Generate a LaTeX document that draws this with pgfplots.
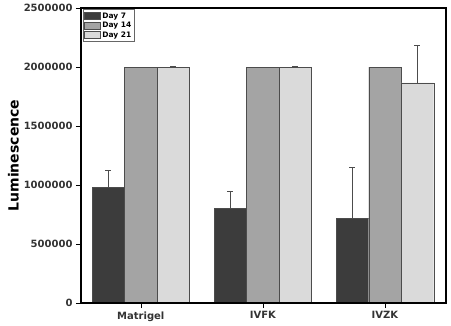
\documentclass[border=0pt]{standalone}
\usepackage{pgfplots}
\pgfplotsset{compat=1.18}
\usepackage{fontspec}
\setmainfont{DejaVu Sans}
\definecolor{dk}{HTML}{3C3C3C}
\definecolor{md}{HTML}{A4A4A4}
\definecolor{lt}{HTML}{DADADA}
\begin{document}
\begin{tikzpicture}
\path[use as bounding box] (-81pt,-22pt) rectangle (370pt,303pt);
\begin{axis}[
  at={(0,0)}, anchor=south west,
  scale only axis, width=365pt, height=295pt,
  ybar=0pt, bar width=32.5pt,
  xmin=-0.49, xmax=2.5,
  ymin=0, ymax=2500000,
  xtick={0,1,2}, xticklabels={Matrigel,IVFK,IVZK},
  ytick={0,500000,1000000,1500000,2000000,2500000},
  scaled y ticks=false,
  yticklabel style={/pgf/number format/fixed,/pgf/number format/1000 sep={}},
  /pgf/number format/assume math mode=true,
  tick label style={font=\bfseries\fontsize{10}{11}\selectfont, text=black!80},
  ylabel={\bfseries Luminescence}, ylabel style={font=\fontsize{14}{15}\selectfont, yshift=-2pt},
  axis line style={line width=1.3pt},
  tick align=outside, tick style={black, line width=0.6pt}, major tick length=5pt,
  xtick pos=bottom, ytick pos=left,
  axis on top,
  legend style={at={(0.005,0.995)}, anchor=north west, font=\bfseries\fontsize{7.5}{8}\selectfont, draw=black!60, inner sep=1pt, row sep=-1.5pt, legend cell align=left},
  legend image code/.code={\draw[#1] (0pt,-3.5pt) rectangle (16pt,3.5pt);},
]
\addplot[fill=dk, draw=black!70, error bars/.cd, y dir=plus, y explicit, error bar style={black!70, line width=0.8pt}, error mark options={rotate=90, mark size=3pt, line width=0.8pt, black!70}]
 coordinates {(0,980000) +- (0,140000) (1,800000) +- (0,150000) (2,715000) +- (0,430000)};
\addplot[fill=md, draw=black!70, error bars/.cd, y dir=plus, y explicit, error bar style={black!70, line width=0.8pt}, error mark options={rotate=90, mark size=3pt, line width=0.8pt, black!70}]
 coordinates {(0,2000000) +- (0,0) (1,2000000) +- (0,0) (2,2000000) +- (0,0)};
\addplot[fill=lt, draw=black!70, error bars/.cd, y dir=plus, y explicit, error bar style={black!70, line width=0.8pt}, error mark options={rotate=90, mark size=3pt, line width=0.8pt, black!70}]
 coordinates {(0,1995000) +- (0,8000) (1,1995000) +- (0,8000) (2,1865000) +- (0,320000)};
\legend{Day 7,Day 14,Day 21}
\end{axis}
\end{tikzpicture}
\end{document}
